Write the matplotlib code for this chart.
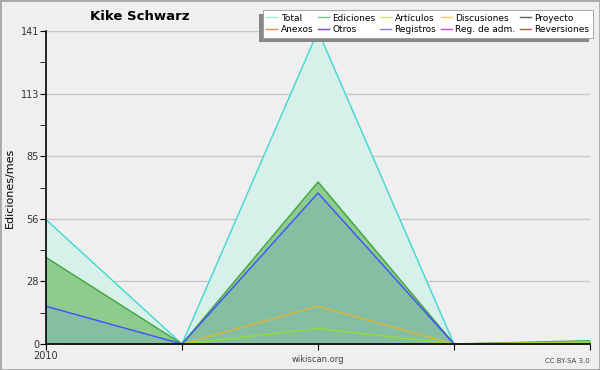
import matplotlib
matplotlib.use("Agg")
import matplotlib.pyplot as plt
from matplotlib.lines import Line2D

# monthly points (only the first gets a year label)
x_labels = ["2010", "", "", "", ""]
total = [56, 0, 141, 0, 1]
ediciones = [39, 0, 73, 0, 1.5]
principal = [17, 0, 68, 0, 0.3]
discusiones = [0, 0, 17, 0, 1]
articulos = [0, 0, 7, 0, 0.5]

y_ticks = [0, 28.2, 56.4, 84.6, 112.8, 141]
y_tick_labels = ["0", "28", "56", "85", "113", "141"]

legend_names = ["Total", "Ediciones", "Artículos", "Discusiones", "Proyecto",
                "Anexos", "Otros", "Registros", "Reg. de adm.", "Reversiones"]
legend_colors = ["#a8e4e0", "#80c080", "#c8e870", "#ffd060", "#606060",
                 "#ff8040", "#8040d0", "#8080ff", "#e040e0", "#ff4040"]

plt.rcParams["font.family"] = ["DejaVu Sans"]
fig = plt.figure(figsize=(6, 3.7), dpi=100, facecolor="#efeff0")
fig.patches.append(plt.Rectangle((0, 0), 1, 1, transform=fig.transFigure,
                                 fill=False, edgecolor="#a8a8a8", lw=2))
ax = fig.add_axes([46 / 600, 26 / 370, 544 / 600, 313 / 370])
ax.set_facecolor("#efeff0")
xs = list(range(len(total)))

ax.fill_between(xs, total, color="#d8f0ea", zorder=1)
ax.plot(xs, total, color="#40d8d0", lw=1, zorder=5)
ax.fill_between(xs, ediciones, color="#8fca8f", zorder=2)
ax.plot(xs, ediciones, color="#40a840", lw=1, zorder=5)
ax.fill_between(xs, principal, color="#84bfa4", zorder=3)
ax.plot(xs, principal, color="#4050ff", lw=1, zorder=5)
ax.plot(xs, discusiones, color="#e0b830", lw=1, zorder=5)
ax.plot(xs, articulos, color="#90e030", lw=1, zorder=5)

ax.set_xlim(0, len(total) - 1)
ax.set_ylim(0, 141)
ax.set_yticks(y_ticks)
ax.set_yticklabels(y_tick_labels, fontsize=7, color="#333333")
ax.set_yticks([14.1 + 28.2 * i for i in range(5)], minor=True)
ax.set_xticks(xs)
ax.set_xticklabels(x_labels, fontsize=7, color="#333333")
ax.tick_params(axis="x", direction="out", length=4, pad=1)
ax.tick_params(axis="y", which="both", direction="out", length=4, pad=1)
ax.grid(axis="y", color="#c8c8c8", lw=1, zorder=0)
ax.set_axisbelow(True)
for s in ["top", "right"]:
    ax.spines[s].set_visible(False)
for s in ["left", "bottom"]:
    ax.spines[s].set_linewidth(1.2)
    ax.spines[s].set_zorder(6)
ax.set_ylabel("Ediciones/mes", fontsize=8, labelpad=4)

fig.text(140 / 600, 1 - 17 / 370, "Kike Schwarz", fontsize=9.5, fontweight="bold",
         ha="center", va="center")
fig.text(318 / 600, 1 - 359 / 370, "wikiscan.org", fontsize=6, ha="center",
         va="center", color="#444444")
fig.text(590 / 600, 1 - 361 / 370, "CC BY-SA 3.0", fontsize=5, ha="right",
         va="center", color="#444444")

handles = [Line2D([], [], color=c, lw=1) for c in legend_colors]
# column-major order so rows read as in the original
order = [0, 5, 1, 6, 2, 7, 3, 8, 4, 9]
leg = fig.legend([handles[i] for i in order], [legend_names[i] for i in order],
                 ncol=5, loc="upper right", bbox_to_anchor=(593 / 600, 1 - 10 / 370),
                 fontsize=6.5, frameon=True, fancybox=False, framealpha=1,
                 facecolor="white",
                 handlelength=1.2, handletextpad=0.4, columnspacing=0.5,
                 labelspacing=0.3, borderpad=0.4, borderaxespad=0)
leg.get_frame().set_edgecolor("#999999")
leg.get_frame().set_linewidth(0.6)
leg.set_zorder(10)
# flat grey drop shadow like the original (left and below)
fig.canvas.draw()
bb = leg.get_window_extent().transformed(fig.transFigure.inverted())
dx, dy = 4 / 600, 4 / 370
fig.patches.append(plt.Rectangle((bb.x0 - dx, bb.y0 - dy), bb.width, bb.height,
                                 transform=fig.transFigure, facecolor="#888888",
                                 edgecolor="none", zorder=9))

fig.savefig("out.png", dpi=100, facecolor=fig.get_facecolor())
